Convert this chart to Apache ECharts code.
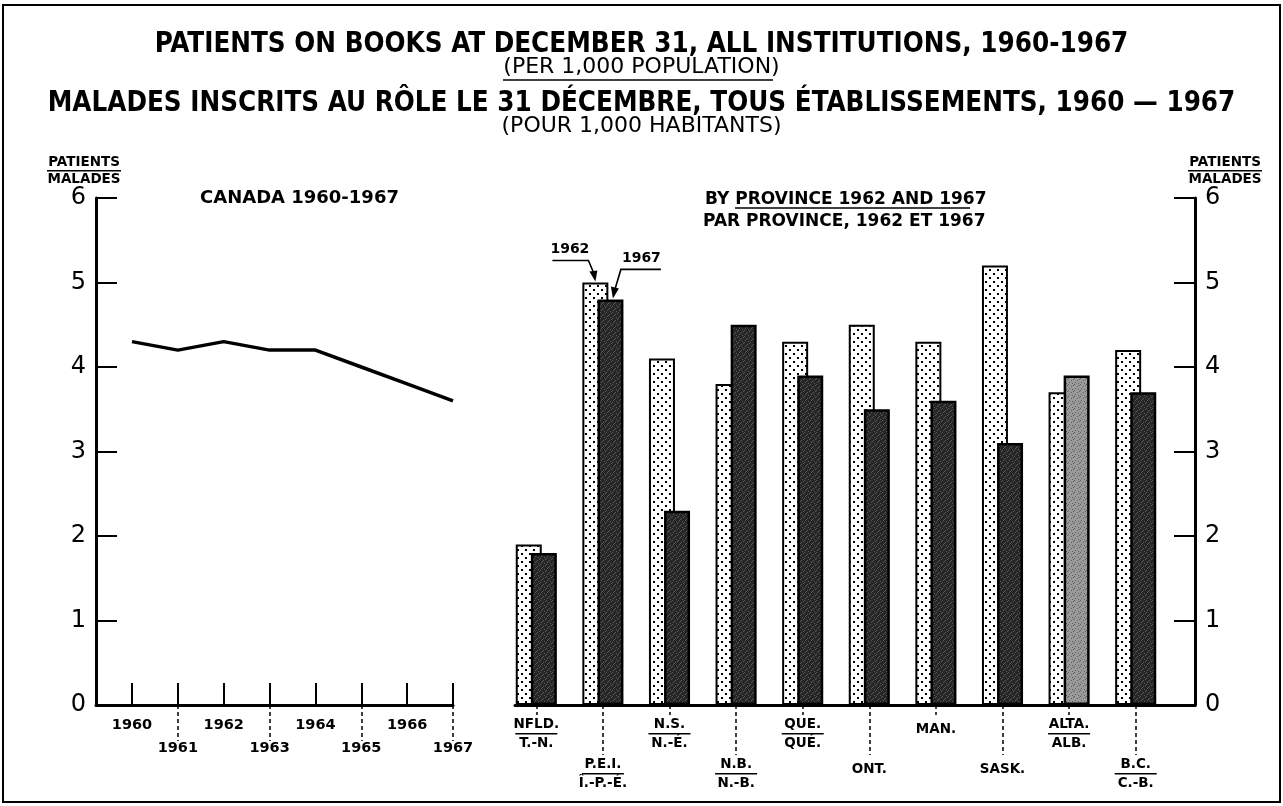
<!DOCTYPE html>
<html>
<head>
<meta charset="utf-8">
<script src="https://cdn.jsdelivr.net/npm/echarts@6/dist/echarts.min.js"></script>
<style>
  html,body{margin:0;padding:0;background:#fff;}
  #chart{width:1283px;height:806px;}
</style>
</head>
<body>
<div id="chart"></div>
<script>
// Canada, patients on books per 1,000 population
const years = ["1960","1961","1962","1963","1964","1965","1966","1967"];
const canada = [4.3, 4.2, 4.3, 4.2, 4.2, 4.0, 3.8, 3.6];

// by province, 1962 vs 1967
const provEn = ["NFLD.","P.E.I.","N.S.","N.B.","QUE.","ONT.","MAN.","SASK.","ALTA.","B.C."];
const provFr = ["T.-N.","Î.-P.-É.","N.-É.","N.-B.","QUÉ.","","","","ALB.","C.-B."];
const provLow = [0,1,0,1,0,1,0,1,0,1];   // label sits on the lower row
const v1962 = [1.9, 5.0, 4.1, 3.8, 4.3, 4.5, 4.3, 5.2, 3.7, 4.2];
const v1967 = [1.8, 4.8, 2.3, 4.5, 3.9, 3.5, 3.6, 3.1, 3.9, 3.7];
const yTicks = [0,1,2,3,4,5,6];

const FONT = '"DejaVu Sans", sans-serif';
const TFONT = '"Liberation Sans Narrow", "DejaVu Sans Condensed", sans-serif';

function pattern(bg, fg, pts, size){
  const c = document.createElement("canvas");
  c.width = c.height = size;
  const g = c.getContext("2d");
  g.fillStyle = bg; g.fillRect(0,0,size,size);
  g.fillStyle = fg;
  pts.forEach(p => g.fillRect(p[0], p[1], p[2] || 2, p[2] || 2));
  return c;
}
const dots = pattern("#fff", "#000", [[1,1],[5,5]], 8);
const dark = pattern("#262626", "#5a5a5a", [[0,0,1],[3,2,1],[1,4,1],[4,5,1],[5,1,1],[2,3,1]], 6);
const grey = pattern("#9a9a9a", "#5e5e5e", [[0,0,1],[3,2,1],[1,4,1],[4,5,1],[5,1,1]], 6);

const chart = echarts.init(document.getElementById("chart"));

const axisNameRich = {
  a:{fontFamily:FONT, fontSize:13.5, fontWeight:"bold", color:"#000", lineHeight:15, align:"center"},
  l:{width:74, height:1.5, backgroundColor:"#000", align:"center"}
};
const provRich = {
  a:{fontFamily:FONT, fontSize:13.5, fontWeight:"bold", color:"#000", lineHeight:17, align:"center"},
  l:{width:42, height:1.5, backgroundColor:"#000", align:"center"},
  s:{fontFamily:FONT, fontSize:13.5, fontWeight:"bold", color:"#000", lineHeight:17, align:"center", padding:[9,0,0,0]}
};
const provFmt = (v, i) => provFr[i] ? `{a|${v}}\n{l|}\n{a|${provFr[i]}}` : `{s|${v}}`;
const tickBlack = {color:"#000", width:2};
const dashed = {color:"#000", width:1.5, type:[4,3]};
const hiddenY = (g) => ({gridIndex:g, type:"value", min:0, max:6, show:false});
const frameX = (g) => ({gridIndex:g, type:"value", min:0, max:1, axisLine:{show:true, onZero:false, lineStyle:{color:"#000", width:3}},
  axisTick:{show:false}, axisLabel:{show:false}, splitLine:{show:false}});
const valY = (g, pos) => ({gridIndex:g, type:"value", position:pos, min:0, max:6, interval:1,
  axisLine:{show:true, onZero:false, lineStyle:{color:"#000", width:3}},
  axisTick:{show:true, inside:true, length:21, lineStyle:tickBlack},
  axisLabel:{fontFamily:FONT, fontSize:24, color:"#000", margin:10, formatter:v => yTicks.includes(v) ? String(v) : ""},
  splitLine:{show:false}});
const yearLabel = {fontFamily:FONT, fontSize:14.5, fontWeight:"bold", color:"#000"};
const subTitle = {fontFamily:FONT, fontSize:17, fontWeight:"bold", color:"#000"};
const mainTitle = {fontFamily:TFONT, fontSize:27.5, fontWeight:"bold", color:"#000"};
const unitTitle = {fontFamily:FONT, fontSize:22, fontWeight:"normal", color:"#000"};

chart.setOption({
  animation:false,
  backgroundColor:"#fff",
  title:[
    {text:"PATIENTS ON BOOKS AT DECEMBER 31, ALL INSTITUTIONS, 1960-1967", left:"center", top:26, textStyle:mainTitle},
    {text:"(PER 1,000 POPULATION)", left:"center", top:51, textStyle:unitTitle},
    {text:"MALADES INSCRITS AU RÔLE LE 31 DÉCEMBRE, TOUS ÉTABLISSEMENTS, 1960 — 1967", left:"center", top:85, textStyle:mainTitle},
    {text:"(POUR 1,000 HABITANTS)", left:"center", top:110, textStyle:unitTitle},
    {text:"CANADA 1960-1967", left:195, top:184,
      textStyle:{fontFamily:FONT, fontSize:18, fontWeight:"bold", color:"#000"}},
    {text:"BY PROVINCE 1962 AND 1967", left:700, top:186, textStyle:subTitle},
    {text:"PAR PROVINCE, 1962 ET 1967", left:698, top:208, textStyle:subTitle},
    {text:"{a|PATIENTS}\n{l|}\n{a|MALADES}", left:79, top:150, textAlign:"center",
      textStyle:{rich:axisNameRich}},
    {text:"{a|PATIENTS}\n{l|}\n{a|MALADES}", left:1220, top:150, textAlign:"center",
      textStyle:{rich:axisNameRich}}
  ],
  grid:[
    {left:96, top:198, width:357, bottom:101, outerBoundsMode:"none"},
    {left:132, top:198, width:321, bottom:101, outerBoundsMode:"none"},
    {left:515, top:198, width:680, bottom:101, outerBoundsMode:"none"},
    {left:503, top:198, width:666, bottom:101, outerBoundsMode:"none"}
  ],
  xAxis:[
    frameX(0),
    {gridIndex:1, type:"category", data:years, boundaryGap:false, position:"bottom",
      axisLine:{show:false},
      axisTick:{show:true, inside:true, length:22, interval:0, lineStyle:tickBlack},
      axisLabel:Object.assign({interval:(i) => i % 2 === 0, margin:13}, yearLabel),
      splitLine:{show:false}},
    {gridIndex:1, type:"category", data:years, boundaryGap:false, position:"bottom",
      axisLine:{show:false},
      axisTick:{show:true, inside:false, length:36, interval:(i) => i % 2 === 1, lineStyle:dashed},
      axisLabel:Object.assign({interval:(i) => i % 2 === 1, margin:36}, yearLabel),
      splitLine:{show:false}},
    frameX(2),
    {gridIndex:3, type:"category", data:provEn, position:"bottom",
      axisLine:{show:false},
      axisTick:{show:true, alignWithLabel:true, length:10, interval:(i) => !provLow[i], lineStyle:dashed},
      axisLabel:{interval:(i) => !provLow[i], margin:11, formatter:provFmt, rich:provRich},
      splitLine:{show:false}},
    {gridIndex:3, type:"category", data:provEn, position:"bottom",
      axisLine:{show:false},
      axisTick:{show:true, alignWithLabel:true, length:50, interval:(i) => !!provLow[i], lineStyle:dashed},
      axisLabel:{interval:(i) => !!provLow[i], margin:51, formatter:provFmt, rich:provRich},
      splitLine:{show:false}}
  ],
  yAxis:[
    valY(0, "left"),
    hiddenY(1),
    valY(2, "right"),
    hiddenY(3)
  ],
  series:[
    {name:"Canada", type:"line", xAxisIndex:1, yAxisIndex:1, data:canada, symbol:"none",
      lineStyle:{color:"#000", width:3.5}},
    {name:"1962", type:"bar", xAxisIndex:5, yAxisIndex:3, data:v1962, barWidth:26, barGap:"-42%",
      itemStyle:{color:{image:dots, repeat:"repeat"}, borderColor:"#000", borderWidth:2}},
    {name:"1967", type:"bar", xAxisIndex:5, yAxisIndex:3, barWidth:26, barGap:"-42%",
      data:v1967.map((v, i) => provEn[i] === "ALTA." ? {value:v, itemStyle:{color:{image:grey, repeat:"repeat"}}} : v),
      itemStyle:{color:{image:dark, repeat:"repeat"}, borderColor:"#000", borderWidth:2.5}}
  ]
});

// callouts on P.E.I. bars, placed from the bar tops
const pei = provEn.indexOf("P.E.I.");
const c62 = chart.convertToPixel({xAxisIndex:5, yAxisIndex:3}, [pei, v1962[pei]]);
const c67 = chart.convertToPixel({xAxisIndex:5, yAxisIndex:3}, [pei, v1967[pei]]);
const t62 = [c62[0] - 7.5, c62[1]];
const t67 = [c67[0] + 10, c67[1]];
const ln = {stroke:"#000", lineWidth:1.6, fill:null};
const calloutFont = "bold 14px " + FONT;
chart.setOption({
  graphic:[
    {type:"rect", shape:{x:3, y:5, width:1277, height:797}, style:{stroke:"#000", lineWidth:2, fill:null}, silent:true},
    {type:"line", shape:{x1:503, y1:80, x2:773, y2:80}, style:{stroke:"#000", lineWidth:1.6}},
    {type:"line", shape:{x1:735, y1:208, x2:970, y2:208}, style:{stroke:"#000", lineWidth:1.6}},
    {type:"text", x:t62[0] - 45, y:t62[1] - 40, style:{text:"1962", font:calloutFont, fill:"#000"}},
    {type:"polyline", shape:{points:[[t62[0] - 43, t62[1] - 22], [t62[0] - 7, t62[1] - 22], [t62[0] - 1, t62[1] - 8]]}, style:ln},
    {type:"polygon", shape:{points:[[t62[0], t62[1] - 1], [t62[0] - 6, t62[1] - 11], [t62[0] + 2, t62[1] - 12]]}, style:{fill:"#000"}},
    {type:"text", x:t67[0] + 9, y:t67[1] - 48, style:{text:"1967", font:calloutFont, fill:"#000"}},
    {type:"polyline", shape:{points:[[t67[0] + 48, t67[1] - 30], [t67[0] + 8, t67[1] - 30], [t67[0] + 2, t67[1] - 10]]}, style:ln},
    {type:"polygon", shape:{points:[[t67[0], t67[1] - 1], [t67[0] - 2, t67[1] - 13], [t67[0] + 6, t67[1] - 11]]}, style:{fill:"#000"}}
  ]
});
</script>
</body>
</html>
